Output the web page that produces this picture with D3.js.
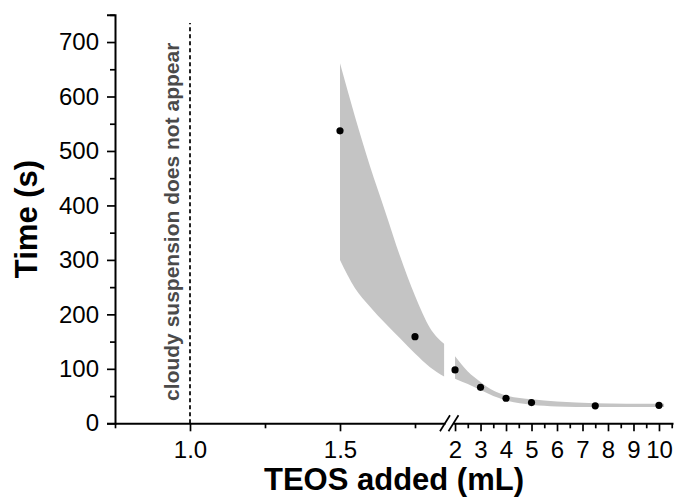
<!DOCTYPE html>
<html>
<head>
<meta charset="utf-8">
<script src="https://cdn.jsdelivr.net/npm/d3@7"></script>
<style>
  body { margin: 0; background: #fff; }
  svg { display: block; font-family: "Liberation Sans", Arial, sans-serif; }
</style>
</head>
<body>
<svg id="canvas"></svg>
<script>
let width = 676;
let height = 500;

// measured points
let dotX = [1.5, 1.75, 2, 3, 4, 5, 7.5, 10];
let dotY = [537, 159, 98, 66, 46, 38, 32, 33];

// shaded band, left part of the broken axis
let leftBandX = [1.5, 1.55, 1.6, 1.65, 1.7, 1.75, 1.8, 1.847];
let leftUpper = [661, 563, 472, 390, 307, 234, 175, 146];
let leftLower = [300, 248, 214, 184, 156, 128, 103, 86];

// shaded band, right part
let rightBandX = [2, 2.5, 3, 3.5, 4, 5, 6, 7.5, 10, 10.2];
let rightUpper = [123, 95, 76, 60, 51, 44, 40, 37, 36, 36];
let rightLower = [82, 72, 61, 50, 42, 34, 31, 30, 30, 30];

let yTicks = [0, 100, 200, 300, 400, 500, 600, 700];
let yMinor = [50, 150, 250, 350, 450, 550, 650, 750];
let leftTicks = [1.0, 1.5];
let leftMinor = [0.75, 1.25, 1.75];
let rightTicks = [2, 3, 4, 5, 6, 7, 8, 9, 10];
let rightMinor = [2.5, 3.5, 4.5, 5.5, 6.5, 7.5, 8.5, 9.5, 10.5];

let noteText = "cloudy suspension does not appear";
let noteX = 1.0;

let canvas = d3.select("#canvas")
  .attr("width", width)
  .attr("height", height);

let yScale = d3.scaleLinear().domain([0, 750]).range([423.3, 14.8]);
let xLeft = d3.scaleLinear().domain([0.75, 1.85]).range([115, 445]);
let xRight = d3.scaleLinear().domain([1.92, 10.55]).range([453, 673]);

let xOf = (v) => v < 1.9 ? xLeft(v) : xRight(v);

// band
let bandColor = "#c4c4c4";
let leftData = leftBandX.map((x, i) => ({ x: x, lo: leftLower[i], hi: leftUpper[i] }));
let rightData = rightBandX.map((x, i) => ({ x: x, lo: rightLower[i], hi: rightUpper[i] }));

canvas.append("path")
  .datum(leftData)
  .attr("fill", bandColor)
  .attr("d", d3.area().curve(d3.curveMonotoneX)
    .x(d => xLeft(d.x)).y0(d => yScale(d.lo)).y1(d => yScale(d.hi)));

canvas.append("path")
  .datum(rightData)
  .attr("fill", bandColor)
  .attr("d", d3.area().curve(d3.curveMonotoneX)
    .x(d => xRight(d.x)).y0(d => yScale(d.lo)).y1(d => yScale(d.hi)));

// dashed line + note
canvas.append("line")
  .attr("x1", xLeft(noteX)).attr("x2", xLeft(noteX))
  .attr("y1", yScale(0)).attr("y2", yScale(735))
  .attr("stroke", "#222")
  .attr("stroke-width", 2)
  .attr("stroke-dasharray", "4,3");

canvas.append("text")
  .attr("transform", "translate(" + (xLeft(noteX) - 11) + "," + yScale(370) + ") rotate(-90)")
  .attr("text-anchor", "middle")
  .attr("font-size", 21)
  .attr("font-weight", "bold")
  .attr("fill", "#4a4a4a")
  .text(noteText);

// dots
canvas.append("g").selectAll("circle")
  .data(dotX)
  .enter()
  .append("circle")
  .attr("cx", (d) => xOf(d))
  .attr("cy", (d, i) => yScale(dotY[i]))
  .attr("r", 3.6)
  .attr("fill", "#000");

// axes
let styleAxis = (g) => {
  g.selectAll("line").attr("stroke", "#000").attr("stroke-width", 1.7);
  g.selectAll("path").attr("stroke", "#000").attr("stroke-width", 2);
  g.selectAll("text").attr("fill", "#000").attr("font-size", 24).attr("font-family", "Liberation Sans, Arial, sans-serif");
};

let yAxis = d3.axisLeft(yScale).tickValues(yTicks).tickSize(8).tickPadding(8).tickFormat(d3.format("d"));
canvas.append("g")
  .attr("transform", "translate(115,0)")
  .call(yAxis)
  .call(styleAxis);

canvas.append("g")
  .attr("transform", "translate(115,0)")
  .call(d3.axisLeft(yScale).tickValues(yMinor).tickSize(5).tickFormat(""))
  .call(styleAxis)
  .select(".domain").remove();

let baseY = yScale(0);

canvas.append("g")
  .attr("transform", "translate(0," + baseY + ")")
  .call(d3.axisBottom(xLeft).tickValues(leftTicks).tickSize(8).tickPadding(10).tickSizeOuter(0).tickFormat(d3.format(".1f")))
  .call(styleAxis);

canvas.append("g")
  .attr("transform", "translate(0," + baseY + ")")
  .call(d3.axisBottom(xLeft).tickValues(leftMinor).tickSize(5).tickFormat(""))
  .call(styleAxis)
  .select(".domain").remove();

canvas.append("g")
  .attr("transform", "translate(0," + baseY + ")")
  .call(d3.axisBottom(xRight).tickValues(rightTicks).tickSize(8).tickPadding(10).tickSizeOuter(0).tickFormat(d3.format("d")))
  .call(styleAxis);

canvas.append("g")
  .attr("transform", "translate(0," + baseY + ")")
  .call(d3.axisBottom(xRight).tickValues(rightMinor).tickSize(5).tickFormat(""))
  .call(styleAxis)
  .select(".domain").remove();

// break marks
[445, 453.5].forEach((bx) => {
  canvas.append("line")
    .attr("x1", bx - 5).attr("y1", baseY + 8)
    .attr("x2", bx + 5).attr("y2", baseY - 8)
    .attr("stroke", "#000")
    .attr("stroke-width", 1.7);
});

// titles
canvas.append("text")
  .attr("x", 394)
  .attr("y", 490)
  .attr("text-anchor", "middle")
  .attr("font-size", 31)
  .attr("font-weight", "bold")
  .text("TEOS added (mL)");

canvas.append("text")
  .attr("transform", "translate(37,219) rotate(-90)")
  .attr("text-anchor", "middle")
  .attr("font-size", 31)
  .attr("font-weight", "bold")
  .text("Time (s)");
</script>
</body>
</html>
